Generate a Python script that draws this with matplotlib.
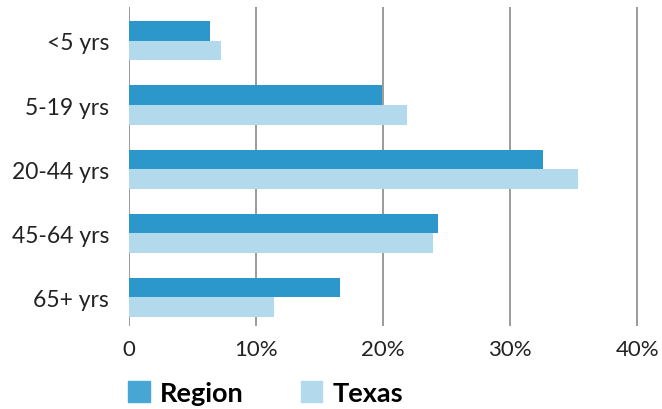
import numpy as np
import matplotlib.pyplot as plt
from matplotlib.patches import Patch

plt.rcParams['font.family'] = ['Lato', 'DejaVu Sans']

categories = ["<5 yrs", "5-19 yrs", "20-44 yrs", "45-64 yrs", "65+ yrs"]
region = [6.4, 19.9, 32.6, 24.3, 16.6]
texas = [7.3, 21.9, 35.3, 23.9, 11.4]
xticks = [0, 10, 20, 30, 40]
xtick_labels = ["0", "10%", "20%", "30%", "40%"]

REGION_C = "#2C97CB"
TEXAS_C = "#B3D9EC"

fig = plt.figure(figsize=(6.62, 4.10), dpi=100)
ax = fig.add_axes([128.5 / 662, 1 - 327 / 410, 534.3 / 662, 319 / 410])

y = np.arange(len(categories))
h = 0.3
ax.barh(y - 0.155, region, height=h, color=REGION_C, zorder=3)
ax.barh(y + 0.155, texas, height=h, color=TEXAS_C, zorder=3)

ax.set_xlim(0, 42)
ax.set_ylim(4.45, -0.53)
ax.set_xticks(xticks)
ax.set_xticklabels(xtick_labels, fontsize=16, color="#222222")
ax.set_yticks(y)
ax.set_yticklabels(categories, fontsize=16.5, color="#222222")
ax.tick_params(axis="x", length=0, pad=9)
ax.tick_params(axis="y", length=0, pad=14)
for s in ax.spines.values():
    s.set_visible(False)
for xv in xticks:
    ax.axvline(xv, color="#8a8a8a", lw=1.2, zorder=1)

handles = [Patch(color="#48A6D4", label="Region"), Patch(color=TEXAS_C, label="Texas")]
fig.legend(handles=handles, loc="lower left", bbox_to_anchor=(128 / 662, 4 / 410),
           ncol=2, frameon=False, prop={"size": 19.5, "weight": "bold"},
           handlelength=0.8, handleheight=0.8, handletextpad=0.38,
           columnspacing=2.1, borderpad=0, borderaxespad=0)

fig.savefig("out.png", dpi=100)
